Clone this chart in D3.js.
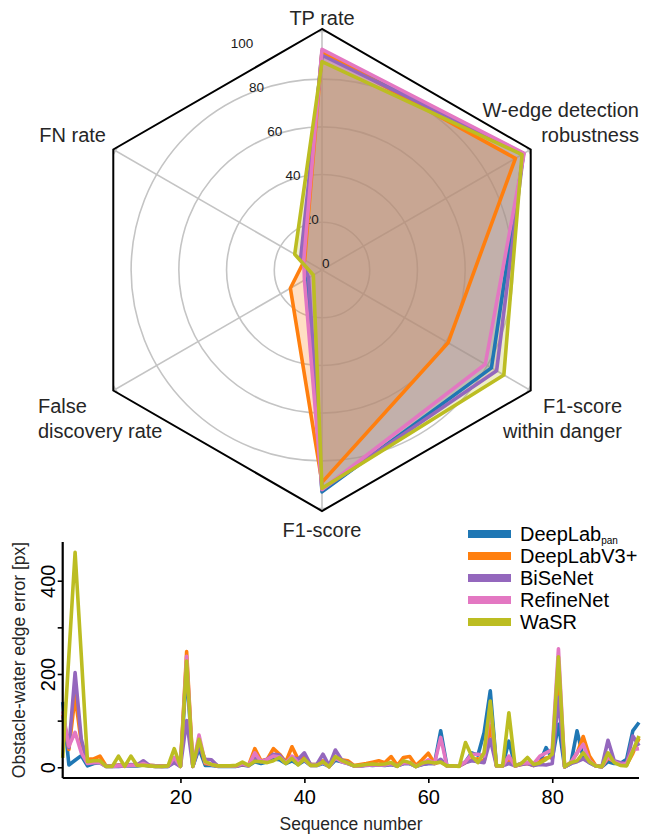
<!DOCTYPE html>
<html>
<head>
<meta charset="utf-8">
<script src="https://cdn.jsdelivr.net/npm/d3@7"></script>
<style>
  body { margin: 0; background: #fff; }
  svg { display: block; font-family: "Liberation Sans", Arial, sans-serif; }
</style>
</head>
<body>
<svg id="chart" width="645" height="835"></svg>
<script>
// ---------- DATA ----------
const seriesNames = ["DeepLab", "DeepLabV3+", "BiSeNet", "RefineNet", "WaSR"];
const seriesColors = ["#1f77b4", "#ff7f0e", "#9467bd", "#e377c2", "#bcbd22"];

const radarAxes = ["TP rate", "FN rate", "False discovery rate", "F1-score", "F1-score within danger", "W-edge detection robustness"];
const radarTicks = [0, 20, 40, 60, 80, 100];
const radarDeepLabPan = [91.5, 9.5, 7.2, 93.0, 82.0, 97.5];
const radarDeepLabV3 = [91.5, 8.4, 15.3, 89.0, 61.0, 93.6];
const radarBiSeNet = [90.0, 10.3, 6.5, 92.0, 84.5, 97.5];
const radarRefineNet = [92.5, 8.8, 8.5, 92.0, 79.0, 97.8];
const radarWaSR = [87.3, 13.2, 4.2, 91.5, 88.0, 96.8];

const sequenceNumbers = d3.range(1, 95);
const errDeepLabPan = [140,5,15,25,3,8,10,2,2,2,3,3,3,5,3,2,2,2,12,2,210,2,40,4,4,2,2,2,2,5,3,12,8,12,18,16,8,14,6,14,4,4,8,2,15,12,8,3,3,5,4,5,4,6,3,8,8,2,6,8,8,78,3,3,3,12,31,26,74,164,3,3,56,3,8,10,4,10,42,18,92,1,8,78,21,10,3,1,12,8,8,17,78,96];
const errDeepLabV3 = [113,38,153,53,17,18,24,3,3,5,4,5,6,8,4,3,3,3,14,2,248,2,55,8,6,3,3,3,3,6,4,40,14,17,40,28,11,44,17,22,6,6,14,2,20,16,14,4,6,8,11,14,10,23,4,21,23,4,16,30,8,12,3,3,3,10,16,18,12,90,3,3,15,3,6,8,4,12,20,22,200,1,10,30,66,24,4,1,20,12,8,5,30,62];
const errBiSeNet = [110,42,203,60,10,12,12,3,3,4,4,6,5,14,4,3,2,2,10,2,100,2,46,17,16,3,3,3,3,6,4,20,12,17,28,26,10,21,17,31,6,6,28,3,37,16,10,3,3,4,5,5,5,6,3,8,8,2,6,8,8,17,3,3,3,10,14,12,10,60,3,3,8,3,6,8,4,6,5,8,150,1,8,12,18,10,3,1,58,14,10,8,67,46];
const errRefineNet = [120,45,75,31,8,10,10,2,2,3,3,4,4,8,3,2,2,3,21,2,238,2,69,10,6,3,3,3,3,8,3,31,12,17,24,22,9,24,10,16,4,4,10,1,20,12,8,3,3,5,5,5,5,8,3,10,10,2,8,16,8,64,3,3,3,12,28,28,24,131,3,3,24,3,8,10,8,24,31,38,254,1,10,31,49,14,3,1,22,12,6,8,38,40];
const errWaSR = [20,240,461,240,12,14,14,2,2,24,2,24,4,4,3,2,2,3,40,2,228,2,60,12,6,3,3,3,4,11,4,13,12,10,14,21,8,19,5,18,4,4,12,1,23,15,9,3,4,6,7,6,7,10,2,14,10,1,9,12,9,11,3,3,2,53,24,10,31,142,3,3,117,3,8,21,6,9,17,28,237,1,10,14,31,12,3,1,31,10,4,3,35,67];
const xTicks = [20, 40, 60, 80];
const yTicks = [0, 100, 200, 300, 400];
const yTickLabels = [0, 200, 400];

const radarSeries = [radarDeepLabPan, radarDeepLabV3, radarBiSeNet, radarRefineNet, radarWaSR];
const lineSeries = [errDeepLabPan, errDeepLabV3, errBiSeNet, errRefineNet, errWaSR];

const svg = d3.select("#chart");
const textColor = "#262626";

// ---------- RADAR ----------
const cx = 322, cy = 270;
const rScale = d3.scaleLinear().domain([0, 101]).range([0, 241]);
const nAx = radarAxes.length;
const ang = i => i * 2 * Math.PI / nAx; // counter-clockwise from top
const px = (i, v) => cx - rScale(v) * Math.sin(ang(i));
const py = (i, v) => cy - rScale(v) * Math.cos(ang(i));

const radar = svg.append("g");
const hexPts = d3.range(nAx).map(i => [px(i, 101), py(i, 101)]);
radar.append("clipPath").attr("id", "hexclip")
  .append("polygon").attr("points", hexPts.map(p => p.join(",")).join(" "));

const grid = radar.append("g").attr("clip-path", "url(#hexclip)");
radarTicks.filter(t => t > 0).forEach(t => {
  grid.append("circle").attr("cx", cx).attr("cy", cy).attr("r", rScale(t))
    .attr("fill", "none").attr("stroke", "#c4c4c4").attr("stroke-width", 1.6);
});
d3.range(nAx).forEach(i => {
  grid.append("line").attr("x1", cx).attr("y1", cy).attr("x2", px(i, 101)).attr("y2", py(i, 101))
    .attr("stroke", "#c4c4c4").attr("stroke-width", 1.6);
});

const lineR = d3.line().curve(d3.curveLinearClosed);
// fills
radarSeries.forEach((vals, s) => {
  radar.append("path")
    .attr("d", lineR(vals.map((v, i) => [px(i, v), py(i, v)])))
    .attr("fill", seriesColors[s]).attr("fill-opacity", 0.25).attr("stroke", "none");
});
// radial labels
const la = 22.5 * Math.PI / 180;
radarTicks.forEach(t => {
  radar.append("text")
    .attr("x", cx - rScale(t) * Math.sin(la))
    .attr("y", cy - rScale(t) * Math.cos(la) - 2)
    .attr("font-size", 13.5).attr("fill", "#1a1a1a")
    .text(t);
});
// lines
radarSeries.forEach((vals, s) => {
  radar.append("path")
    .attr("d", lineR(vals.map((v, i) => [px(i, v), py(i, v)])))
    .attr("fill", "none").attr("stroke", seriesColors[s]).attr("stroke-width", 3.6)
    .attr("stroke-linejoin", "round");
});
// frame
radar.append("polygon").attr("points", hexPts.map(p => p.join(",")).join(" "))
  .attr("fill", "none").attr("stroke", "#000").attr("stroke-width", 2);

// axis labels
const axLabel = (lines, x, y, anchor) => {
  const t = radar.append("text").attr("font-size", 20).attr("fill", textColor).attr("text-anchor", anchor);
  lines.forEach((ln, k) => t.append("tspan").attr("x", x).attr("y", y + k * 24.5).text(ln));
};
axLabel([radarAxes[0]], 322, 25, "middle");
axLabel(["W-edge detection", "robustness"], 639, 117, "end");
axLabel([radarAxes[1]], 106, 142, "end");
axLabel(["False", "discovery rate"], 38, 413, "start");
axLabel(["F1-score", "within danger"], 622, 413, "end");
axLabel([radarAxes[3]], 322, 537, "middle");

// ---------- LINE CHART ----------
const x = d3.scaleLinear().domain([1, 94]).range([62.7, 639]);
const y = d3.scaleLinear().domain([-23, 483]).range([778, 542]);
const lc = svg.append("g");

const line = d3.line().x((d, i) => x(sequenceNumbers[i])).y(d => y(d));
lineSeries.forEach((vals, s) => {
  lc.append("path").attr("d", line(vals))
    .attr("fill", "none").attr("stroke", seriesColors[s]).attr("stroke-width", 3.6)
    .attr("stroke-linejoin", "round").attr("stroke-linecap", "butt");
});

const xAxis = lc.append("g").attr("transform", "translate(0,778)")
  .call(d3.axisBottom(x).tickValues(xTicks).tickSize(5).tickPadding(7).tickFormat(d3.format("d")));
xAxis.select(".domain").attr("stroke", "#000").attr("stroke-width", 2.2)
  .attr("d", `M${x(1)},0H${x(94)}`);
xAxis.selectAll(".tick line").attr("stroke", "#000").attr("stroke-width", 1.6);
xAxis.selectAll("text").attr("font-size", 20).attr("fill", "#000")
  .attr("font-family", "Liberation Sans, Arial, sans-serif");

const yAxis = lc.append("g").attr("transform", "translate(62.7,0)")
  .call(d3.axisLeft(y).tickValues(yTicks).tickSize(5).tickPadding(6)
    .tickFormat(d => yTickLabels.includes(d) ? d : ""));
yAxis.select(".domain").attr("stroke", "#000").attr("stroke-width", 2.2)
  .attr("d", `M0,${y(-23)}V${y(483)}`);
yAxis.selectAll(".tick line").attr("stroke", "#000").attr("stroke-width", 1.6);
yAxis.selectAll("text").attr("font-size", 20).attr("fill", "#000")
  .attr("font-family", "Liberation Sans, Arial, sans-serif")
  .attr("x", null).attr("dy", null).attr("text-anchor", "middle")
  .attr("transform", "translate(-8,0) rotate(-90)");

lc.append("text").attr("transform", "translate(25,660) rotate(-90)")
  .attr("text-anchor", "middle").attr("font-size", 17.5).attr("fill", textColor)
  .text("Obstacle-water edge error [px]");
lc.append("text").attr("x", 351).attr("y", 830)
  .attr("text-anchor", "middle").attr("font-size", 17.5).attr("fill", textColor)
  .text("Sequence number");

// legend
const leg = lc.append("g");
const rowY = [534, 556, 578, 600, 622];
seriesNames.forEach((n, s) => {
  leg.append("line").attr("x1", 468).attr("x2", 511).attr("y1", rowY[s]).attr("y2", rowY[s])
    .attr("stroke", seriesColors[s]).attr("stroke-width", 8);
  const t = leg.append("text").attr("x", 520).attr("y", rowY[s] + 7).attr("font-size", 20).attr("fill", "#000");
  t.append("tspan").text(n);
  if (s === 0) t.append("tspan").attr("font-size", 10).attr("dy", 3).text("pan");
});
</script>
</body>
</html>
